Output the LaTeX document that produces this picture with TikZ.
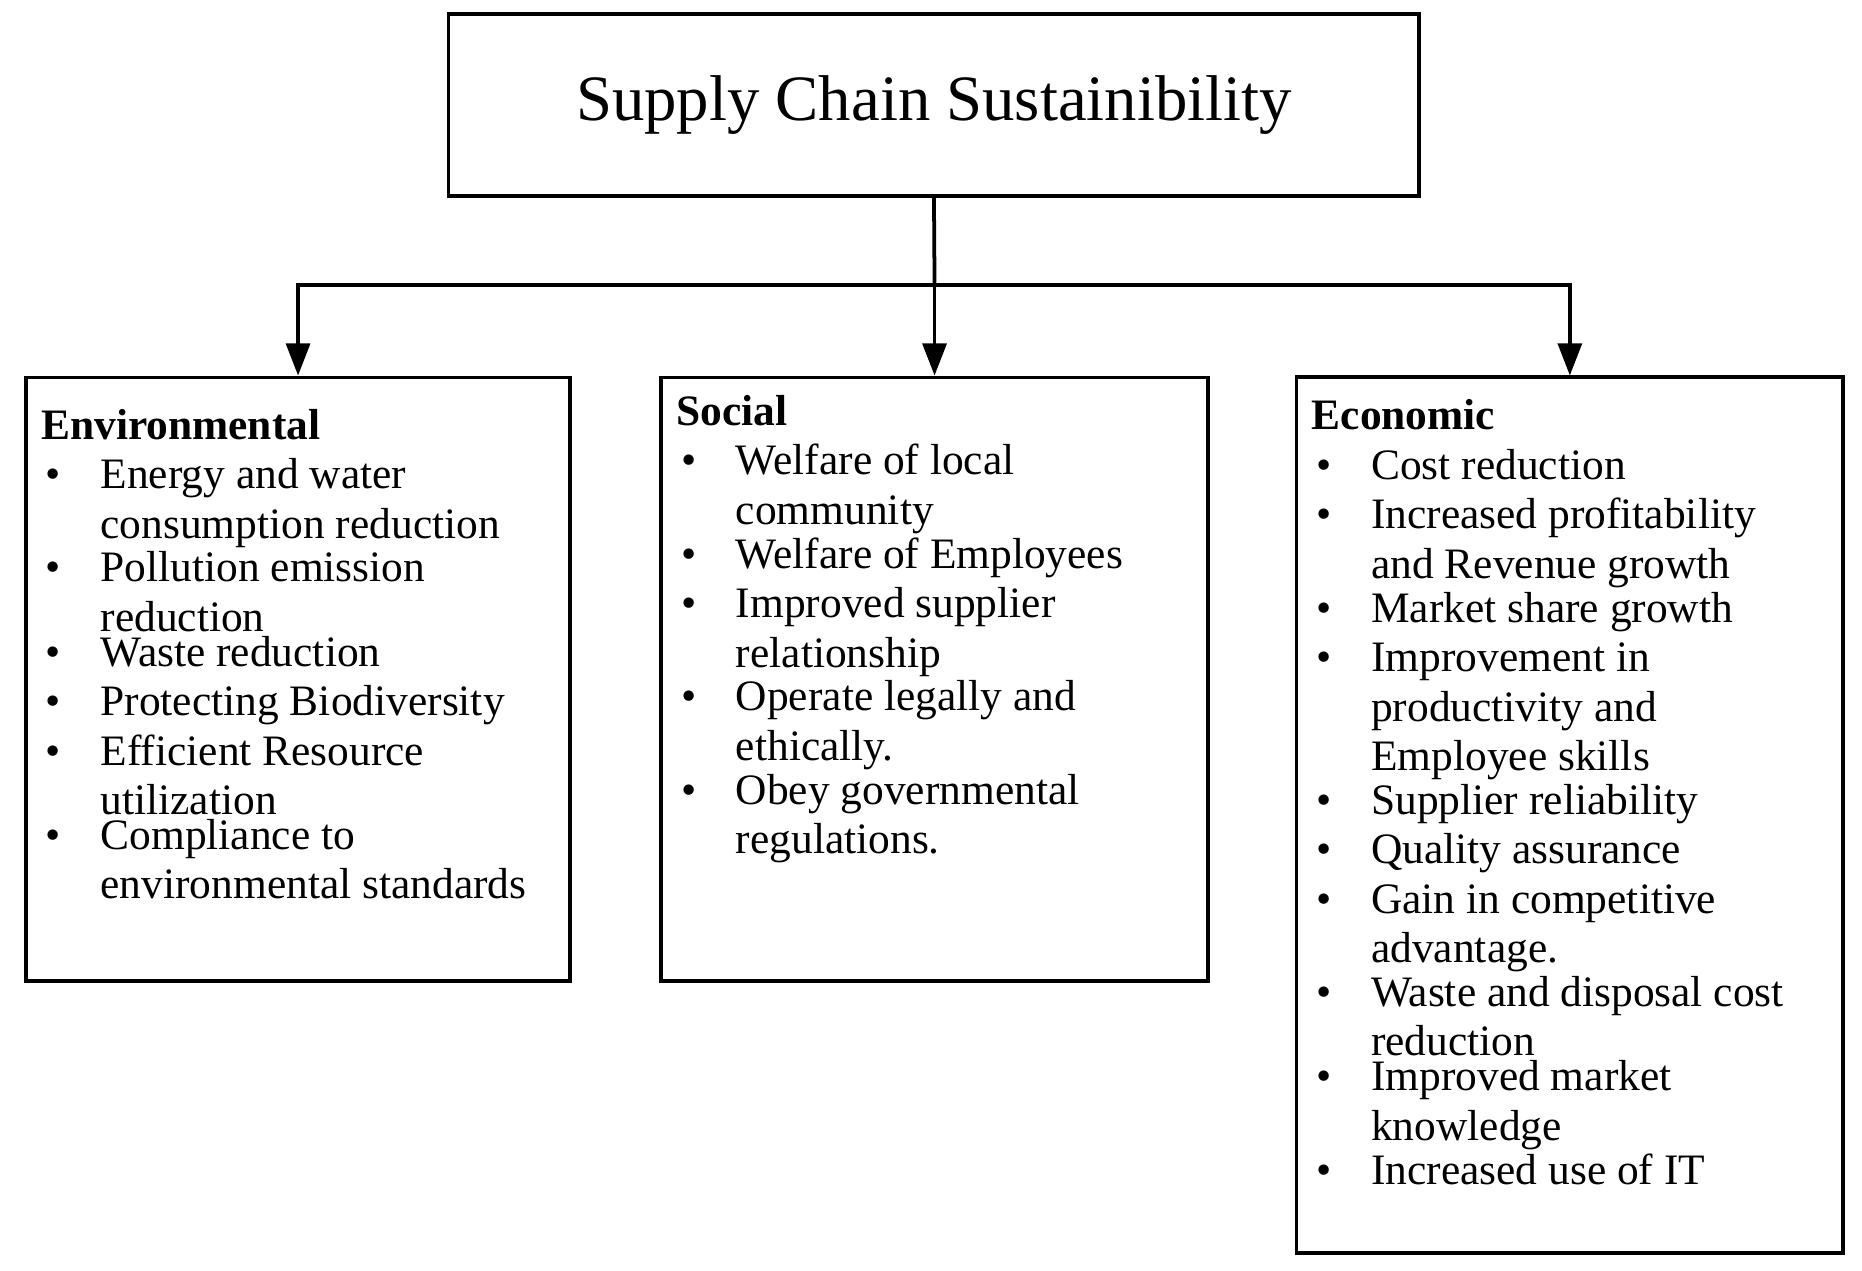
\documentclass[tikz,border=0pt]{standalone}
\usepackage{fontspec}
\setmainfont{Liberation Serif}
\usetikzlibrary{arrows.meta}
\newcommand{\bitem}[1]{\par\noindent\makebox[0.5cm][l]{\hspace{0.04cm}\textbullet}\parbox[t]{4.4cm}{\raggedright #1}}
\newcommand{\blist}[1]{\parbox[t]{5cm}{\fontsize{10.4}{11.85}\selectfont\raggedright #1}}
\begin{document}
\begin{tikzpicture}[x=0.01cm,y=-0.01cm,
  boxstyle/.style={draw,line width=0.9pt,inner sep=0pt},
  listtext/.style={anchor=north west,inner sep=0pt},
  conn/.style={line width=0.9pt,-{Triangle[length=0.27cm,width=0.2cm]}}]
\useasboundingbox (0,0) rectangle (1568,1070);
\node[boxstyle,minimum width=8.17cm,minimum height=1.53cm] (top) at (786.5,88.5) {\fontsize{15.5}{18}\selectfont Supply Chain Sustainibility};
\node[boxstyle,minimum width=4.58cm,minimum height=5.08cm] (env) at (251,572) {};
\node[boxstyle,minimum width=4.60cm,minimum height=5.08cm] (soc) at (787,572) {};
\node[boxstyle,minimum width=4.60cm,minimum height=7.37cm] (eco) at (1322,686.5) {};
\coordinate (split) at (787,240);
\draw[line width=0.9pt] (top.south) -- (split);
\draw[conn] (split) -| (env.north);
\draw[conn] (split) -- (soc.north);
\draw[conn] (split) -| (eco.north);
\node[listtext] (envtext) at (34,344) {\blist{\textbf{Environmental}
\bitem{Energy and water\\consumption reduction}
\bitem{Pollution emission\\reduction}
\bitem{Waste reduction}
\bitem{Protecting Biodiversity}
\bitem{Efficient Resource\\utilization}
\bitem{Compliance to\\environmental standards}}};
\node[listtext] (soctext) at (569,332) {\blist{\textbf{Social}
\bitem{Welfare of local\\community}
\bitem{Welfare of Employees}
\bitem{Improved supplier\\relationship}
\bitem{Operate legally and\\ethically.}
\bitem{Obey governmental\\regulations.}}};
\node[listtext] (ecotext) at (1104,336) {\blist{\textbf{Economic}
\bitem{Cost reduction}
\bitem{Increased profitability\\and Revenue growth}
\bitem{Market share growth}
\bitem{Improvement in\\productivity and\\Employee skills}
\bitem{Supplier reliability}
\bitem{Quality assurance}
\bitem{Gain in competitive\\advantage.}
\bitem{Waste and disposal cost\\reduction}
\bitem{Improved market\\knowledge}
\bitem{Increased use of IT}}};
\end{tikzpicture}
\end{document}
